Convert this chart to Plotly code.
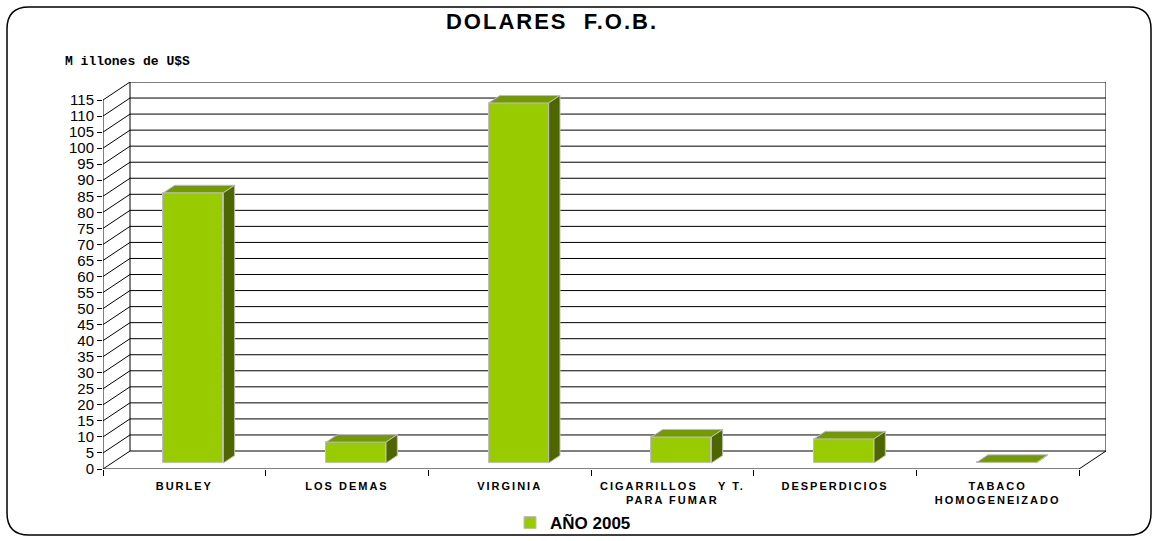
import plotly.graph_objects as go

# ---------------- data ----------------
categories = [
    "BURLEY",
    "LOS DEMAS",
    "VIRGINIA",
    "CIGARRILLOS\u00a0\u00a0\u00a0\u00a0Y T.<br>PARA FUMAR",
    "DESPERDICIOS",
    "TABACO<br>HOMOGENEIZADO",
]
values_2005 = [84.2, 6.5, 112.2, 8.1, 7.5, 0.2]
series_name = "AÑO 2005"
y_tick_vals = [0, 5, 10, 15, 20, 25, 30, 35, 40, 45, 50, 55, 60,
               65, 70, 75, 80, 85, 90, 95, 100, 105, 110, 115]
y_tick_text = [str(v) for v in y_tick_vals]
title_text = "DOLARES\u00a0\u00a0F.O.B."
unit_label = "M illones de U$S"

# ---------------- geometry (pixels) ----------------
W, H = 1158, 541
L, R, B = 103, 1106, 469
DEPTH_PX_X, DEPTH_PX_Y = 27, 18
FRONT_TOP_PX = 100
n = len(categories)
Y_MAX = y_tick_vals[-1]
ppx = (R - L - DEPTH_PX_X) / n
ppy = (B - FRONT_TOP_PX) / Y_MAX
DX = DEPTH_PX_X / ppx
DY = DEPTH_PX_Y / ppy
Y_TOP = Y_MAX + DY
T = B - Y_TOP * ppy
X0, X1 = -0.5, n - 0.5

FD = 1 / 3          # depth fraction of bar front face
DD = 0.42           # bar depth fraction
BAR_W = 60 / ppx

FRONT = "#99CC00"
TOPC = "#739A00"
SIDE = "#4D6600"
EDGE = "#BFBFBF"
FONT = "Liberation Sans, Arial, sans-serif"

fig = go.Figure()

# front faces (the real bar trace)
bar_x = [i + FD * DX for i in range(n)]
fig.add_trace(go.Bar(
    x=bar_x, y=values_2005, base=[FD * DY] * n, width=BAR_W,
    name=series_name, marker=dict(color=FRONT, line=dict(color=EDGE, width=1)),
    showlegend=True,
))

# top and side faces computed from values
for xc, v in zip(bar_x, values_2005):
    xl, xr = xc - BAR_W / 2, xc + BAR_W / 2
    b0 = FD * DY
    t0 = b0 + v
    ox, oy = DD * DX, DD * DY
    fig.add_trace(go.Scatter(
        x=[xl, xr, xr + ox, xl + ox, xl], y=[t0, t0, t0 + oy, t0 + oy, t0],
        fill="toself", fillcolor=TOPC, mode="lines",
        line=dict(color=EDGE, width=1), showlegend=False, hoverinfo="skip"))
    fig.add_trace(go.Scatter(
        x=[xr, xr + ox, xr + ox, xr, xr], y=[b0, b0 + oy, t0 + oy, t0, b0],
        fill="toself", fillcolor=SIDE, mode="lines",
        line=dict(color=EDGE, width=1), showlegend=False, hoverinfo="skip"))

shapes = []
def seg(xa, ya, xb, yb, w=1, color="black"):
    shapes.append(dict(type="line", xref="x", yref="y", x0=xa, y0=ya, x1=xb, y1=yb,
                       line=dict(color=color, width=w), layer="below"))

for v in y_tick_vals:
    seg(X0 + DX, v + DY, X1 + DX, v + DY)       # back wall gridline
    seg(X0, v, X0 + DX, v + DY)                 # left wall diagonal
seg(X0 + DX, DY, X0 + DX, Y_MAX + DY)           # back-left edge
seg(X1 + DX, DY, X1 + DX, Y_MAX + DY)           # back-right edge
seg(X0, 0, X0, Y_MAX)                           # front value axis
seg(X0, 0, X1, 0)                               # front floor
seg(X1, 0, X1 + DX, DY)                         # right floor diagonal

# rounded outer border, in paper coordinates
PW, PH = R - L, B - T
def px(x):
    return (x - L) / PW
def py(y):
    return (B - y) / PH
bx0, by0, bx1, by1, rr = 7, 7, 1151, 535, 22
path = (
    f"M {px(bx0+rr)},{py(by0)} L {px(bx1-rr)},{py(by0)} "
    f"Q {px(bx1)},{py(by0)} {px(bx1)},{py(by0+rr)} "
    f"L {px(bx1)},{py(by1-rr)} Q {px(bx1)},{py(by1)} {px(bx1-rr)},{py(by1)} "
    f"L {px(bx0+rr)},{py(by1)} Q {px(bx0)},{py(by1)} {px(bx0)},{py(by1-rr)} "
    f"L {px(bx0)},{py(by0+rr)} Q {px(bx0)},{py(by0)} {px(bx0+rr)},{py(by0)} Z"
)
shapes.append(dict(type="path", xref="paper", yref="paper", path=path,
                   line=dict(color="black", width=1.5)))

fig.update_layout(
    width=W, height=H,
    margin=dict(l=L, r=W - R, t=T, b=H - B, pad=0, autoexpand=False),
    paper_bgcolor="white", plot_bgcolor="white",
    shapes=shapes,
    bargap=0,
    title=dict(text=title_text, x=552 / W, xanchor="center", y=1 - 21 / H,
               yanchor="middle", font=dict(family=FONT, size=22, color="black", weight="bold")),
    annotations=[dict(text=unit_label, xref="paper", yref="paper",
                      x=px(63), y=py(62), xanchor="left", yanchor="middle",
                      showarrow=False,
                      font=dict(family="Liberation Mono, Courier New, monospace",
                                size=13, color="black", weight="bold"))],
    legend=dict(orientation="h", x=px(510), xanchor="left", y=py(523), yanchor="middle",
                font=dict(family=FONT, size=17, color="black", weight="bold"),
                bgcolor="rgba(0,0,0,0)"),
    showlegend=True,
    xaxis=dict(range=[X0, X1 + DX], tickmode="array", tickvals=list(range(n)),
               ticktext=categories, ticks="", showgrid=False, zeroline=False,
               showline=False, ticklabelstandoff=9, automargin=False,
               tickfont=dict(family=FONT, size=11, color="black", weight="bold"),
               minor=dict(tickmode="array", tickvals=[X0 + k for k in range(n + 1)],
                          ticks="outside", ticklen=6, tickcolor="black", tickwidth=1,
                          showgrid=False),
               fixedrange=True),
    yaxis=dict(range=[0, Y_TOP], tickmode="array", tickvals=y_tick_vals,
               ticktext=y_tick_text, ticks="outside", ticklen=5, tickcolor="black",
               showgrid=False, zeroline=False, showline=False, automargin=False,
               tickfont=dict(family=FONT, size=15, color="black"),
               fixedrange=True),
)

post = ("document.body.style.margin='0';document.body.style.padding='0';"
        "document.querySelectorAll('.xtick text').forEach(function(t){"
        "t.style.letterSpacing='2px';});"
        "document.querySelectorAll('.gtitle').forEach(function(t){"
        "t.style.letterSpacing='2px';});")
fig.write_html("out.html", post_script=post, config={"displayModeBar": False})
